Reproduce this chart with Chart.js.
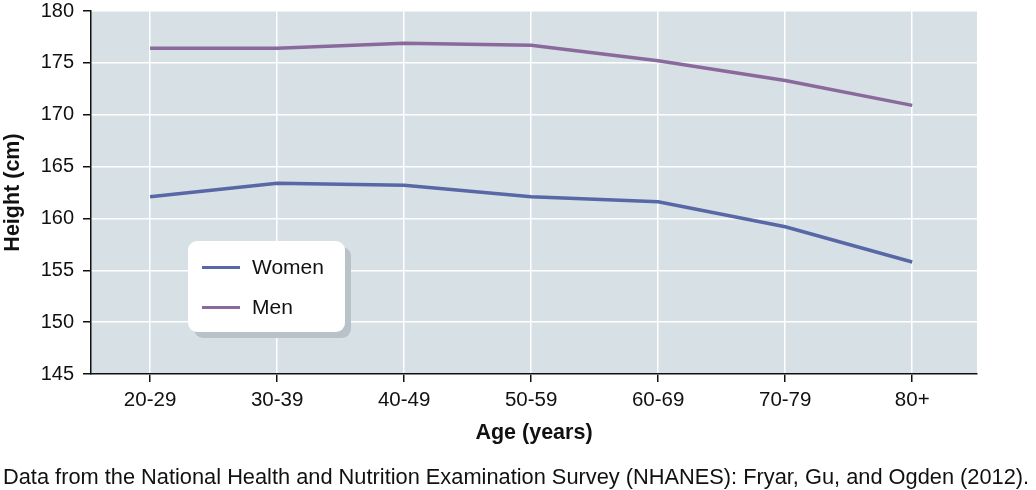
<!DOCTYPE html>
<html>
<head>
<meta charset="utf-8">
<script src="https://cdn.jsdelivr.net/npm/chart.js@4/dist/chart.umd.min.js"></script>
<style>
  html, body { margin: 0; padding: 0; background: #fff; }
  #wrap { position: relative; width: 1036px; height: 490px; overflow: hidden; }
  #chart { position: absolute; left: 0; top: -6px; }
  #legend {
    position: absolute; left: 188px; top: 241px; width: 157px; height: 91px;
    background: #fff; border-radius: 9px; box-shadow: 6px 6px 0 #b9c2c8;
    font-family: "Liberation Sans", Arial, sans-serif; font-size: 21px; color: #111;
  }
  .item { position: absolute; left: 14px; height: 22px; line-height: 22px; }
  .item span.sw { position: absolute; left: 0; top: 10px; width: 38px; height: 3px; }
  .item span.tx { position: absolute; left: 50px; top: 0; }
  #note {
    position: absolute; left: 3px; top: 466px; line-height: 22px;
    font-family: "Liberation Sans", Arial, sans-serif; font-size: 21.8px; color: #111;
    white-space: nowrap;
  }
</style>
</head>
<body>
<div id="wrap">
  <canvas id="chart" width="1036" height="496"></canvas>
  <div id="legend"></div>
  <div id="note">Data from the National Health and Nutrition Examination Survey (NHANES): Fryar, Gu, and Ogden (2012).</div>
</div>
<script>
// 年龄组与身高（cm）
const ageGroups = ['20-29', '30-39', '40-49', '50-59', '60-69', '70-79', '80+'];
const women = [162.1, 163.4, 163.2, 162.1, 161.6, 159.2, 155.8];
const men = [176.4, 176.4, 176.9, 176.7, 175.2, 173.3, 170.9];
const yTicks = [145, 150, 155, 160, 165, 170, 175, 180];

const seriesNames = ['Women', 'Men'];
const seriesColors = ['#5867a5', '#8a6a9c'];

const font = 'Liberation Sans, Arial, sans-serif';

// 绘图区背景色
const plotBg = {
  id: 'plotBg',
  beforeDraw(chart) {
    const a = chart.chartArea, ctx = chart.ctx;
    ctx.save();
    ctx.fillStyle = '#d7e0e5';
    ctx.fillRect(a.left, a.top, a.right - a.left, a.bottom - a.top);
    ctx.restore();
  }
};

new Chart(document.getElementById('chart'), {
  type: 'line',
  data: {
    datasets: [women, men].map((vals, i) => ({
      label: seriesNames[i],
      data: vals.map((v, j) => ({ x: j, y: v })),
      borderColor: seriesColors[i],
      borderWidth: 3.5,
      pointRadius: 0,
      tension: 0,
      fill: false
    }))
  },
  options: {
    responsive: false,
    animation: false,
    layout: { padding: { left: 0, right: 59, top: 0, bottom: 40 } },
    plugins: { legend: { display: false }, tooltip: { enabled: false } },
    scales: {
      x: {
        type: 'linear',
        min: -0.465,
        max: 6.51,
        afterBuildTicks(s) { s.ticks = ageGroups.map((_, i) => ({ value: i })); },
        afterFit(s) { s.height = 76; },
        ticks: {
          callback: v => ageGroups[v],
          color: '#111',
          font: { family: font, size: 20.5 },
          padding: 6,
          maxRotation: 0,
          autoSkip: false
        },
        grid: { color: '#ffffff', lineWidth: 1.5, tickColor: '#111', tickLength: 8 },
        border: { color: '#111', width: 1.5 },
        title: {
          display: true,
          text: 'Age (years)',
          color: '#111',
          font: { family: font, size: 21.5, weight: 'bold' },
          padding: { top: 4, bottom: 4 }
        }
      },
      y: {
        min: 145,
        max: 180,
        afterBuildTicks(s) { s.ticks = yTicks.map(v => ({ value: v })); },
        afterFit(s) { s.width = 91; },
        ticks: {
          color: '#111',
          font: { family: font, size: 20, lineHeight: 0.8 },
          padding: 9
        },
        grid: { color: '#ffffff', lineWidth: 1.5, tickColor: '#111', tickLength: 8 },
        border: { color: '#111', width: 1.5 },
        title: {
          display: true,
          text: 'Height (cm)',
          color: '#111',
          font: { family: font, size: 21.5, weight: 'bold' },
          padding: { top: 0, bottom: 0 }
        }
      }
    }
  },
  plugins: [plotBg]
});

// 图例（HTML）
const legend = document.getElementById('legend');
seriesNames.forEach((name, i) => {
  const d = document.createElement('div');
  d.className = 'item';
  d.style.top = (15 + i * 40) + 'px';
  d.innerHTML = '<span class="sw" style="background:' + seriesColors[i] + '"></span><span class="tx">' + name + '</span>';
  legend.appendChild(d);
});
</script>
</body>
</html>
